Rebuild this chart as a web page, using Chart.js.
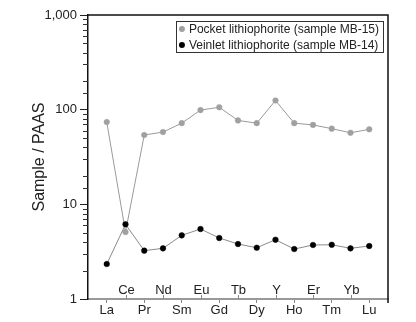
<!DOCTYPE html>
<html>
<head>
<meta charset="utf-8">
<script src="https://cdn.jsdelivr.net/npm/chart.js@4"></script>
<style>
  html, body { margin: 0; padding: 0; background: #fff; }
  #wrap { width: 416px; height: 322px; }
</style>
</head>
<body>
<div id="wrap"><canvas id="chart" width="416" height="322"></canvas></div>
<script>
// rare earth elements (+Y), PAAS-normalised
const elements = ["La","Ce","Pr","Nd","Sm","Eu","Gd","Tb","Dy","Y","Ho","Er","Tm","Yb","Lu"];
const pocket  = [74, 5.1, 54, 58, 72, 99, 106, 77, 72, 125, 72, 69, 63, 57, 62];
const veinlet = [2.34, 6.15, 3.24, 3.43, 4.7, 5.49, 4.41, 3.81, 3.48, 4.23, 3.37, 3.72, 3.74, 3.43, 3.63];
const yTickLabels = { 1: "1", 10: "10", 100: "100", 1000: "1,000" };
const seriesNames = ["Pocket lithiophorite (sample MB-15)", "Veinlet lithiophorite (sample MB-14)"];

const FONT = "'Liberation Sans', Arial, sans-serif";

function toPoints(vals){
  return vals.map((v,i)=>({ x: i + 1, y: v }));
}

function isMajor(v){
  const l = Math.log10(v);
  return Math.abs(l - Math.round(l)) < 1e-9;
}

/* frame, minor ticks, upper labels, legend */
const extras = {
  id: "extras",
  afterDraw(chart){
    const c = chart.ctx;
    const a = chart.chartArea;
    const xs = chart.scales.x;
    const ys = chart.scales.y;
    c.save();

    // top + right border
    c.strokeStyle = "#111";
    c.lineWidth = 1.5;
    c.beginPath();
    c.moveTo(a.left, a.top);
    c.lineTo(a.right, a.top);
    c.lineTo(a.right, a.bottom + 4);
    c.stroke();

    // minor y ticks
    c.lineWidth = 1;
    c.strokeStyle = "#333";
    ys.ticks.forEach(t=>{
      if (isMajor(t.value)) return;
      const py = Math.round(ys.getPixelForValue(t.value)) + 0.5;
      c.beginPath();
      c.moveTo(a.left - 5, py);
      c.lineTo(a.left, py);
      c.stroke();
    });

    // upward ticks + labels for even elements
    c.strokeStyle = "#888";
    c.fillStyle = "#222";
    c.font = "13px " + FONT;
    c.textAlign = "center";
    c.textBaseline = "alphabetic";
    elements.forEach((el,i)=>{
      if (i % 2 === 0) return;
      const px = Math.round(xs.getPixelForValue(i + 1)) + 0.5;
      c.beginPath();
      c.moveTo(px, a.bottom);
      c.lineTo(px, a.bottom - 4);
      c.stroke();
      c.fillText(el, px, a.bottom - 5);
    });

    // legend
    c.font = "12px " + FONT;
    c.textAlign = "left";
    c.textBaseline = "middle";
    const w = Math.max(...seriesNames.map(s=>c.measureText(s).width));
    const right = a.right - 5;
    const left = right - w - 17;
    const top = a.top + 6;
    const bottom = top + 31;
    c.fillStyle = "#fff";
    c.fillRect(left, top, right - left, bottom - top);
    c.strokeStyle = "#333";
    c.lineWidth = 1;
    c.strokeRect(Math.round(left) + 0.5, top + 0.5, Math.round(right - left), bottom - top);
    const cols = ["#a0a0a0", "#000"];
    seriesNames.forEach((s,i)=>{
      const cy = top + 8 + i * 16;
      c.fillStyle = cols[i];
      c.beginPath();
      c.arc(left + 6, cy, 3, 0, Math.PI * 2);
      c.fill();
      c.fillStyle = "#222";
      c.fillText(s, left + 13, cy + 0.5);
    });

    c.restore();
  }
};

new Chart(document.getElementById("chart"), {
  type: "line",
  data: {
    datasets: [
      {
        label: seriesNames[0],
        data: toPoints(pocket),
        borderColor: "#9a9a9a",
        borderWidth: 1,
        pointBackgroundColor: "#a0a0a0",
        pointBorderColor: "#a0a0a0",
        pointBorderWidth: 0.5,
        pointRadius: 2.8,
        order: 1
      },
      {
        label: seriesNames[1],
        data: toPoints(veinlet),
        borderColor: "#8a8a8a",
        borderWidth: 1,
        pointBackgroundColor: "#000",
        pointBorderColor: "#000",
        pointBorderWidth: 0.5,
        pointRadius: 2.8,
        order: 0
      }
    ]
  },
  options: {
    responsive: false,
    animation: false,
    layout: { padding: { top: 15, right: 28, left: 30, bottom: 0 } },
    plugins: { legend: { display: false }, tooltip: { enabled: false } },
    scales: {
      x: {
        type: "linear",
        min: 0,
        max: 16,
        afterFit(s){ s.height = 23; },
        afterBuildTicks(s){
          s.ticks = elements.map((e,i)=>({ value: i + 1 }));
        },
        ticks: {
          autoSkip: false,
          maxRotation: 0,
          padding: 0,
          color: "#222",
          font: { family: FONT, size: 13 },
          callback: (v)=> (v % 2 === 1 ? elements[v - 1] : "")
        },
        grid: {
          drawOnChartArea: false,
          tickLength: 4,
          tickColor: (ctx)=> (ctx.tick && ctx.tick.value % 2 === 1 ? "#888" : "rgba(0,0,0,0)")
        },
        border: { color: "#999", width: 2 }
      },
      y: {
        type: "logarithmic",
        min: 1,
        max: 1000,
        afterFit(s){ s.width = 58; },
        ticks: {
          autoSkip: false,
          padding: 3,
          color: "#222",
          font: { family: FONT, size: 13 },
          callback: (v)=> (yTickLabels[v] !== undefined && isMajor(v) ? yTickLabels[v] : "")
        },
        grid: {
          drawOnChartArea: false,
          tickLength: 8,
          tickColor: (ctx)=> (ctx.tick && isMajor(ctx.tick.value) ? "#222" : "rgba(0,0,0,0)")
        },
        border: { color: "#111", width: 1.5 },
        title: {
          display: true,
          text: "Sample / PAAS",
          color: "#222",
          font: { family: FONT, size: 16 },
          padding: { top: 0, bottom: 0 }
        }
      }
    }
  },
  plugins: [extras]
});
</script>
</body>
</html>
